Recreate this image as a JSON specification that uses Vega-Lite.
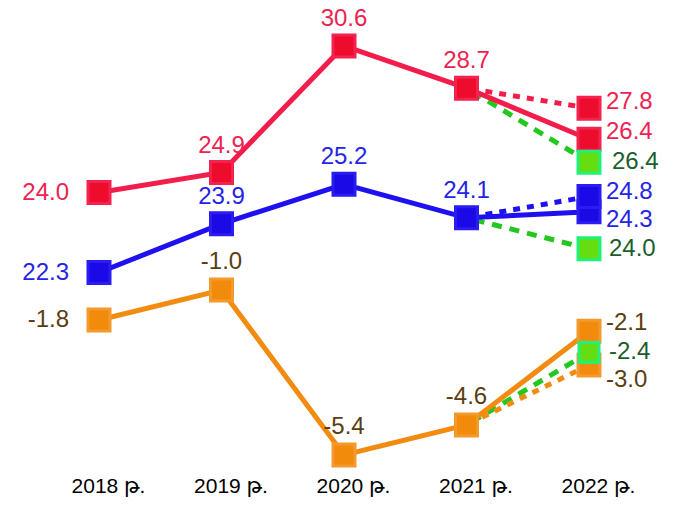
{
  "$schema": "https://vega.github.io/schema/vega-lite/v6.json",
  "width": 677,
  "height": 470,
  "autosize": {"type": "none"},
  "padding": {"left": 0, "top": 0, "right": 0, "bottom": 35},
  "background": "white",
  "config": {
    "view": {"stroke": null},
    "font": "Liberation Sans, DejaVu Sans",
    "locale": {"number": {"decimal": ".", "thousands": ",", "grouping": [3], "currency": ["", ""], "minus": "-"}}
  },
  "datasets": {
    "main": [
      {"s": "red", "year": "2018 թ.", "v": 24.0},
      {"s": "red", "year": "2019 թ.", "v": 24.9},
      {"s": "red", "year": "2020 թ.", "v": 30.6},
      {"s": "red", "year": "2021 թ.", "v": 28.7},
      {"s": "red", "year": "2022 թ.", "v": 26.4},
      {"s": "blue", "year": "2018 թ.", "v": 22.3},
      {"s": "blue", "year": "2019 թ.", "v": 23.9},
      {"s": "blue", "year": "2020 թ.", "v": 25.2},
      {"s": "blue", "year": "2021 թ.", "v": 24.1},
      {"s": "blue", "year": "2022 թ.", "v": 24.3},
      {"s": "orange", "year": "2018 թ.", "v": -1.8},
      {"s": "orange", "year": "2019 թ.", "v": -1.0},
      {"s": "orange", "year": "2020 թ.", "v": -5.4},
      {"s": "orange", "year": "2021 թ.", "v": -4.6},
      {"s": "orange", "year": "2022 թ.", "v": -2.1}
    ],
    "fc": [
      {"s": "red", "k": "alt", "year0": "2021 թ.", "v0": 28.7, "year": "2022 թ.", "v": 27.8},
      {"s": "red", "k": "green", "year0": "2021 թ.", "v0": 28.7, "year": "2022 թ.", "v": 26.4},
      {"s": "blue", "k": "alt", "year0": "2021 թ.", "v0": 24.1, "year": "2022 թ.", "v": 24.8},
      {"s": "blue", "k": "green", "year0": "2021 թ.", "v0": 24.1, "year": "2022 թ.", "v": 24.0},
      {"s": "orange", "k": "alt", "year0": "2021 թ.", "v0": -4.6, "year": "2022 թ.", "v": -3.0},
      {"s": "orange", "k": "green", "year0": "2021 թ.", "v0": -4.6, "year": "2022 թ.", "v": -2.4}
    ]
  },
  "encoding": {
    "x": {
      "field": "year",
      "type": "nominal",
      "sort": null,
      "scale": {"type": "point", "padding": 0, "range": [99, 589], "domain": ["2018 թ.", "2019 թ.", "2020 թ.", "2021 թ.", "2022 թ."]},
      "axis": {"title": null, "domain": false, "ticks": false, "grid": false, "labelAngle": 0, "labelFontSize": 21, "labelColor": "#000000", "labelPadding": 5, "labelOffset": 9, "labelFont": "Liberation Sans, DejaVu Sans"}
    }
  },
  "resolve": {"scale": {"y": "independent"}},
  "layer": [
    {
      "encoding": {"y": {"field": "v", "type": "quantitative", "scale": {"domain": [11.501, 32.672], "zero": false, "nice": false}, "axis": null}},
      "layer": [
        {"data": {"name": "fc"}, "transform": [{"filter": "datum.s == 'red' && datum.k == 'green'"}],
         "mark": {"type": "rule", "stroke": "#22c81e", "strokeWidth": 5, "strokeDash": [10, 8], "yOffset": 23},
         "encoding": {"x2": {"field": "year0"}, "y2": {"field": "v0"}}},
        {"data": {"name": "fc"}, "transform": [{"filter": "datum.s == 'red' && datum.k == 'alt'"}],
         "mark": {"type": "rule", "stroke": "#f21d4b", "strokeWidth": 5, "strokeDash": [7, 7]},
         "encoding": {"x2": {"field": "year0"}, "y2": {"field": "v0"}}},
        {"data": {"name": "main"}, "transform": [{"filter": "datum.s == 'red'"}],
         "mark": {"type": "line", "stroke": "#f21d4b", "strokeWidth": 5}},
        {"data": {"name": "main"}, "transform": [{"filter": "datum.s == 'red'"}],
         "mark": {"type": "point", "shape": "square", "filled": true, "size": 484, "fill": "#ee0c2c", "stroke": "#f3224f", "strokeWidth": 3, "opacity": 1}},
        {"data": {"name": "fc"}, "transform": [{"filter": "datum.s == 'red' && datum.k == 'alt'"}],
         "mark": {"type": "point", "shape": "square", "filled": true, "size": 484, "fill": "#ee0c2c", "stroke": "#f3224f", "strokeWidth": 3, "opacity": 1}},
        {"data": {"name": "fc"}, "transform": [{"filter": "datum.s == 'red' && datum.k == 'green'"}],
         "mark": {"type": "point", "shape": "square", "filled": true, "size": 484, "fill": "#66dd11", "stroke": "#1ff27a", "strokeWidth": 3, "opacity": 1, "yOffset": 23}},
        {"data": {"name": "main"}, "transform": [{"filter": "datum.s == 'red' && datum.year == '2018 թ.'"}],
         "mark": {"type": "text", "align": "right", "baseline": "middle", "dx": -30, "fontSize": 24, "fill": "#ee2252"},
         "encoding": {"text": {"field": "v", "type": "quantitative", "format": ".1f"}}},
        {"data": {"name": "main"}, "transform": [{"filter": "datum.s == 'red' && datum.year != '2018 թ.' && datum.year != '2022 թ.'"}],
         "mark": {"type": "text", "align": "center", "baseline": "middle", "dy": -27, "fontSize": 24, "fill": "#ee2252"},
         "encoding": {"text": {"field": "v", "type": "quantitative", "format": ".1f"}}},
        {"data": {"name": "main"}, "transform": [{"filter": "datum.s == 'red' && datum.year == '2022 թ.'"}],
         "mark": {"type": "text", "align": "left", "baseline": "middle", "dx": 17, "dy": -7, "fontSize": 24, "fill": "#ee2252"},
         "encoding": {"text": {"field": "v", "type": "quantitative", "format": ".1f"}}},
        {"data": {"name": "fc"}, "transform": [{"filter": "datum.s == 'red' && datum.k == 'alt'"}],
         "mark": {"type": "text", "align": "left", "baseline": "middle", "dx": 17, "dy": -6, "fontSize": 24, "fill": "#ee2252"},
         "encoding": {"text": {"field": "v", "type": "quantitative", "format": ".1f"}}},
        {"data": {"name": "fc"}, "transform": [{"filter": "datum.s == 'red' && datum.k == 'green'"}],
         "mark": {"type": "text", "align": "left", "baseline": "middle", "dx": 23, "dy": 23, "fontSize": 24, "fill": "#1b5e2a"},
         "encoding": {"text": {"field": "v", "type": "quantitative", "format": ".1f"}}}
      ]
    },
    {
      "encoding": {"y": {"field": "v", "type": "quantitative", "scale": {"domain": [15.804, 31.264], "zero": false, "nice": false}, "axis": null}},
      "layer": [
        {"data": {"name": "fc"}, "transform": [{"filter": "datum.s == 'blue' && datum.k == 'green'"}],
         "mark": {"type": "rule", "stroke": "#22c81e", "strokeWidth": 5, "strokeDash": [10, 8], "yOffset": 28},
         "encoding": {"x2": {"field": "year0"}, "y2": {"field": "v0"}}},
        {"data": {"name": "fc"}, "transform": [{"filter": "datum.s == 'blue' && datum.k == 'alt'"}],
         "mark": {"type": "rule", "stroke": "#1e10ef", "strokeWidth": 5, "strokeDash": [7, 7]},
         "encoding": {"x2": {"field": "year0"}, "y2": {"field": "v0"}}},
        {"data": {"name": "main"}, "transform": [{"filter": "datum.s == 'blue'"}],
         "mark": {"type": "line", "stroke": "#1e10ef", "strokeWidth": 5}},
        {"data": {"name": "main"}, "transform": [{"filter": "datum.s == 'blue'"}],
         "mark": {"type": "point", "shape": "square", "filled": true, "size": 484, "fill": "#1c0ae6", "stroke": "#2a1cf2", "strokeWidth": 3, "opacity": 1}},
        {"data": {"name": "fc"}, "transform": [{"filter": "datum.s == 'blue' && datum.k == 'alt'"}],
         "mark": {"type": "point", "shape": "square", "filled": true, "size": 484, "fill": "#1c0ae6", "stroke": "#2a1cf2", "strokeWidth": 3, "opacity": 1}},
        {"data": {"name": "fc"}, "transform": [{"filter": "datum.s == 'blue' && datum.k == 'green'"}],
         "mark": {"type": "point", "shape": "square", "filled": true, "size": 484, "fill": "#66dd11", "stroke": "#1ff27a", "strokeWidth": 3, "opacity": 1, "yOffset": 28}},
        {"data": {"name": "main"}, "transform": [{"filter": "datum.s == 'blue' && datum.year == '2018 թ.'"}],
         "mark": {"type": "text", "align": "right", "baseline": "middle", "dx": -30, "fontSize": 24, "fill": "#2424e6"},
         "encoding": {"text": {"field": "v", "type": "quantitative", "format": ".1f"}}},
        {"data": {"name": "main"}, "transform": [{"filter": "datum.s == 'blue' && datum.year != '2018 թ.' && datum.year != '2022 թ.'"}],
         "mark": {"type": "text", "align": "center", "baseline": "middle", "dy": -27, "fontSize": 24, "fill": "#2424e6"},
         "encoding": {"text": {"field": "v", "type": "quantitative", "format": ".1f"}}},
        {"data": {"name": "main"}, "transform": [{"filter": "datum.s == 'blue' && datum.year == '2022 թ.'"}],
         "mark": {"type": "text", "align": "left", "baseline": "middle", "dx": 17, "dy": 8, "fontSize": 24, "fill": "#2424e6"},
         "encoding": {"text": {"field": "v", "type": "quantitative", "format": ".1f"}}},
        {"data": {"name": "fc"}, "transform": [{"filter": "datum.s == 'blue' && datum.k == 'alt'"}],
         "mark": {"type": "text", "align": "left", "baseline": "middle", "dx": 17, "dy": -5, "fontSize": 24, "fill": "#2424e6"},
         "encoding": {"text": {"field": "v", "type": "quantitative", "format": ".1f"}}},
        {"data": {"name": "fc"}, "transform": [{"filter": "datum.s == 'blue' && datum.k == 'green'"}],
         "mark": {"type": "text", "align": "left", "baseline": "middle", "dx": 20, "dy": 28, "fontSize": 24, "fill": "#1b5e2a"},
         "encoding": {"text": {"field": "v", "type": "quantitative", "format": ".1f"}}}
      ]
    },
    {
      "encoding": {"y": {"field": "v", "type": "quantitative", "scale": {"domain": [-5.8, 6.733], "zero": false, "nice": false}, "axis": null}},
      "layer": [
        {"data": {"name": "fc"}, "transform": [{"filter": "datum.s == 'orange' && datum.k == 'green'"}],
         "mark": {"type": "rule", "stroke": "#22c81e", "strokeWidth": 5, "strokeDash": [10, 8], "yOffset": 10},
         "encoding": {"x2": {"field": "year0"}, "y2": {"field": "v0"}}},
        {"data": {"name": "fc"}, "transform": [{"filter": "datum.s == 'orange' && datum.k == 'alt'"}],
         "mark": {"type": "rule", "stroke": "#f28c10", "strokeWidth": 5, "strokeDash": [7, 7]},
         "encoding": {"x2": {"field": "year0"}, "y2": {"field": "v0"}}},
        {"data": {"name": "main"}, "transform": [{"filter": "datum.s == 'orange'"}],
         "mark": {"type": "line", "stroke": "#f28c10", "strokeWidth": 5}},
        {"data": {"name": "main"}, "transform": [{"filter": "datum.s == 'orange'"}],
         "mark": {"type": "point", "shape": "square", "filled": true, "size": 484, "fill": "#f28a0c", "stroke": "#f39a2c", "strokeWidth": 3, "opacity": 1}},
        {"data": {"name": "fc"}, "transform": [{"filter": "datum.s == 'orange' && datum.k == 'alt'"}],
         "mark": {"type": "point", "shape": "square", "filled": true, "size": 484, "fill": "#f28a0c", "stroke": "#f39a2c", "strokeWidth": 3, "opacity": 1}},
        {"data": {"name": "fc"}, "transform": [{"filter": "datum.s == 'orange' && datum.k == 'green'"}],
         "mark": {"type": "point", "shape": "square", "filled": true, "size": 400, "fill": "#66dd11", "stroke": "#1ff27a", "strokeWidth": 3, "opacity": 1, "yOffset": 10}},
        {"data": {"name": "main"}, "transform": [{"filter": "datum.s == 'orange' && datum.year == '2018 թ.'"}],
         "mark": {"type": "text", "align": "right", "baseline": "middle", "dx": -30, "fontSize": 24, "fill": "#5a3d10"},
         "encoding": {"text": {"field": "v", "type": "quantitative", "format": ".1f"}}},
        {"data": {"name": "main"}, "transform": [{"filter": "datum.s == 'orange' && datum.year != '2018 թ.' && datum.year != '2022 թ.'"}],
         "mark": {"type": "text", "align": "center", "baseline": "middle", "dy": -28, "fontSize": 24, "fill": "#5a3d10"},
         "encoding": {"text": {"field": "v", "type": "quantitative", "format": ".1f"}}},
        {"data": {"name": "main"}, "transform": [{"filter": "datum.s == 'orange' && datum.year == '2022 թ.'"}],
         "mark": {"type": "text", "align": "left", "baseline": "middle", "dx": 17, "dy": -8, "fontSize": 24, "fill": "#5a3d10"},
         "encoding": {"text": {"field": "v", "type": "quantitative", "format": ".1f"}}},
        {"data": {"name": "fc"}, "transform": [{"filter": "datum.s == 'orange' && datum.k == 'alt'"}],
         "mark": {"type": "text", "align": "left", "baseline": "middle", "dx": 17, "dy": 15, "fontSize": 24, "fill": "#5a3d10"},
         "encoding": {"text": {"field": "v", "type": "quantitative", "format": ".1f"}}},
        {"data": {"name": "fc"}, "transform": [{"filter": "datum.s == 'orange' && datum.k == 'green'"}],
         "mark": {"type": "text", "align": "left", "baseline": "middle", "dx": 20, "dy": 10, "fontSize": 24, "fill": "#1b5e2a"},
         "encoding": {"text": {"field": "v", "type": "quantitative", "format": ".1f"}}}
      ]
    }
  ]
}
